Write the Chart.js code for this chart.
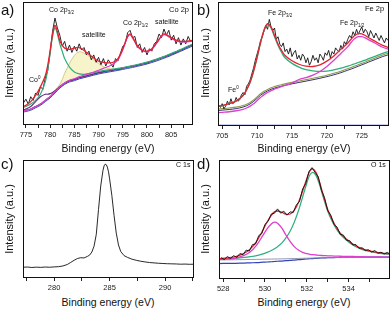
<!DOCTYPE html>
<html>
<head>
<meta charset="utf-8">
<script src="https://cdn.jsdelivr.net/npm/chart.js@4/dist/chart.umd.min.js"></script>
<style>
  body { margin: 0; width: 392px; height: 310px; overflow: hidden; background: #fff; position: relative;
         font-family: "Liberation Sans", Arial, sans-serif; color: #111; }
  canvas { position: absolute; }
  .t { position: absolute; white-space: nowrap; line-height: 1; }
  .letter { font-size: 15px; }
  .ytitle { font-size: 11px; transform: translate(-50%, -50%) rotate(-90deg); }
  .xtitle { font-size: 10.5px; transform: translate(-50%, -50%); }
  .note { font-size: 7px; }
  .note sub, .note sup { font-size: 4.5px; line-height: 0; }
</style>
</head>
<body>
<canvas id="ca"></canvas>
<canvas id="cb"></canvas>
<canvas id="cc"></canvas>
<canvas id="cd"></canvas>

<div class="t letter" style="left:1px;top:2px">a)</div>
<div class="t letter" style="left:197px;top:2px">b)</div>
<div class="t letter" style="left:1px;top:156px">c)</div>
<div class="t letter" style="left:197px;top:156px">d)</div>

<div class="t ytitle" style="left:9px;top:63px">Intensity (a.u.)</div>
<div class="t ytitle" style="left:205px;top:63px">Intensity (a.u.)</div>
<div class="t ytitle" style="left:9px;top:219px">Intensity (a.u.)</div>
<div class="t ytitle" style="left:205px;top:219px">Intensity (a.u.)</div>

<div class="t xtitle" style="left:108px;top:148px">Binding energy (eV)</div>
<div class="t xtitle" style="left:304px;top:148px">Binding energy (eV)</div>
<div class="t xtitle" style="left:108px;top:302px">Binding energy (eV)</div>
<div class="t xtitle" style="left:304px;top:302px">Binding energy (eV)</div>

<div class="t note" style="left:49px;top:6px">Co 2p<sub>3/2</sub></div>
<div class="t note" style="left:82px;top:31px">satellite</div>
<div class="t note" style="left:123px;top:19px">Co 2p<sub>1/2</sub></div>
<div class="t note" style="left:155px;top:18px">satellite</div>
<div class="t note" style="left:169px;top:6px;font-size:7.5px">Co 2p</div>
<div class="t note" style="left:29px;top:76px">Co<sup>0</sup></div>

<div class="t note" style="left:268px;top:9px">Fe 2p<sub>3/2</sub></div>
<div class="t note" style="left:340px;top:19px">Fe 2p<sub>1/2</sub></div>
<div class="t note" style="left:365px;top:5px;font-size:7.5px">Fe 2p</div>
<div class="t note" style="left:228px;top:86px">Fe<sup>0</sup></div>

<div class="t note" style="left:176px;top:161px">C 1s</div>
<div class="t note" style="left:371px;top:161px">O 1s</div>

<script>
// ---- a) Co 2p ----
const aRawStart = 774.5, aRawStep = 0.5;
const aRaw = [18,21,17,23,20,26,24,31,29,38,44,59,76,87,79,73,64,68,60,65,59,64,60,66,61,63,57,60,53,57,
              51,55,49,54,48,53,50,47,54,52,58,64,66,75,77,71,72,63,66,59,63,57,62,60,66,68,74,71,78,73,
              77,69,73,66,71,65,70,66,72,68];
const aFitX = [774,775,776,777,778,779,779.5,780,780.5,781,781.5,782,782.5,783,784,785,786,787,788,789,
               790,791,792,793,794,795,795.5,796,796.5,797,797.5,798,799,800,801,802,803,803.5,804,805,
               806,807,808,809,810];
const aRed = [14,16,19,24,31,40,48.5,60.5,73.5,81,76,68.5,65,62.5,61.5,62.5,63,60.5,57.5,54.5,
              52,51,50.5,51,54,62,67.3,72,74,71.5,68,64.5,61,60,62,67,72.5,74,73.5,71,
              69,68,68,68.5,69];
const aMag = [11,12,13,15,17,20,21.5,23,25,27,29,31,32.6,34.2,36.4,37.6,39.3,40.5,41.8,43,
              44.5,46,47.5,49.5,53,61,66.5,71.5,73.5,71,67.5,64,60.5,59.5,61.5,66.5,72,73.5,73,70.5,
              68.5,67.5,67.5,68,68.5];
const aGreen = [13.5,15,17,20,25,35,45,58,72,79,74,66,60,54,47,43,41.5,41.2,41.8,42.6,
                43.5,44.2,44.8,45.4,46,46.7,47.1,47.5,47.9,48.3,48.7,49.2,50.1,51.1,52.3,53.6,55,55.8,56.5,58.1,
                59.8,61.5,63.3,65,66.5];
const aSat = [11,12,13,15,17,20,21.5,23.2,25.5,28,30.5,33,37,42,50,56.5,59.5,58.5,56,53,
              50,47.5,46,45.5,45.8,46.4,46.8,47.2,47.6,48,48.4,48.9,49.7,50.7,51.9,53.2,54.6,55.4,56.1,57.7,
              59.4,61.1,62.9,64.6,66.1];
const aCo0 = [11.5,13,15,19,23,25,25,25.5,26.5,27.8,29.6,31.4,32.8,34.2,36.1,37.1,38.6,39.6,40.6,41.6,
              42.6,43.4,44.1,44.8,45.5,46.3,46.7,47.1,47.5,47.9,48.3,48.8,49.7,50.7,51.9,53.2,54.6,55.4,56.1,57.7,
              59.4,61.1,62.9,64.6,66.1];
const aBg = [11,12,13,15,17,20,21.5,23,25,27,29,31,32.5,34,36,37,38.5,39.5,40.5,41.5,
             42.5,43.3,44,44.7,45.4,46.2,46.6,47,47.4,47.8,48.2,48.7,49.6,50.6,51.8,53.1,54.5,55.3,56,57.6,
             59.3,61,62.8,64.5,66];
const aBlue = [10,11,12,14,16,19,20.5,22,24,26,28,30,31.5,33,35,36,37.5,38.5,39.5,40.5,
               41.5,42.3,43,43.7,44.4,45.2,45.6,46,46.4,46.8,47.2,47.7,48.6,49.6,50.8,52.1,53.5,54.3,55,56.6,
               58.3,60,61.8,63.5,65];

// ---- b) Fe 2p ----
const bRawStart = 704.5, bRawStep = 0.25;
const bRaw = [17,15,18,14,16,20,17,22,18,19, 23,20,21,25,27,25,32,34,37,42,
              47,53,58,63,69,72,77,81,78,86, 80,77,79,70,72,66,64,67,60,62,
              58,63,56,59,61,54,57,53,58,56, 51,55,49,52,57,53,55,51,58,56,
              53,59,57,61,55,60,58,63,61,60, 65,62,68,66,70,73,71,76,73,78,
              74,77,80,75,78,76,72,77,74,71, 75,72,69,73,70,67,71,69];
const bFitX = [704,705,706,707,708,708.5,709,709.5,710,710.5,711,711.5,712,712.5,713,713.5,714,715,716,717,
               718,719,720,721,722,723,723.5,724,724.5,725,725.5,726,727,728,729];
const bRed = [15.5,16.5,18,20.2,24.8,29.3,35.4,44.5,55.5,67.5,77.5,82.5,79.8,73,66.2,61,56.8,52.6,49.8,48.2,
              48,49.3,52.3,56.5,61.8,67,70.2,73,74.5,74.3,73,71.2,68,65,63];
const bMag = [10.5,11,11.5,12.3,13.5,14.5,16,18,20.5,23,25.3,27,28.5,29.8,30.8,31.8,32.8,34.6,37.5,39,
              41,44,48,53,58.5,64,67.5,70.5,72,72,71,69.5,66.5,63.5,61.5];
const bGreen = [15.5,16.5,18,20,24.5,29,35,44,55,67,77,82,79,72,65,59.5,55,50.5,47.5,45.5,
                44.5,44,44.3,45.2,46.6,48.3,49.2,50.2,51.2,52.2,53.2,54.3,56.4,58.5,60.3];
const bBg = [13.5,14,14.5,15.2,16.5,17.5,19,21,23.5,26,28,29.5,30.8,31.8,32.6,33.3,34,35.2,36.3,37.4,
             38.5,39.7,41,42.5,44.2,46.2,47.2,48.3,49.4,50.5,51.6,52.8,55,57.2,59];
const bNavy = [12.3,12.8,13.3,14,15.3,16.3,17.8,19.8,22.3,24.8,26.8,28.3,29.6,30.6,31.4,32.1,32.8,34,35.1,36.2,
               37.3,38.5,39.8,41.3,43,45,46,47.1,48.2,49.3,50.4,51.6,53.8,56,57.8];
const bBaseX = [704, 729];
const bBase = [0.6, 0.6];

// ---- c) C 1s ----
const cX = [277.2,277.6,278,278.4,278.8,279.2,279.6,280,280.4,280.8,281.2,281.5,281.8,282.1,282.4,282.7,283,283.2,283.4,283.6,
            283.8,284,284.2,284.4,284.5,284.6,284.7,284.8,284.9,285,285.2,285.4,285.6,285.8,286,286.3,286.6,287,287.4,287.8,
            288.2,288.6,289,289.4,289.8,290.2,290.6,291,291.4,291.8,292.2,292.6];
const cY = [9.1,9.3,8.9,9.2,9.0,9.3,9.1,9.4,9.6,10.2,11.5,13.2,15.0,16.5,17.2,17.0,18.3,19.4,22,27,
            37,58,78,91,95,96.5,96,94,90,84,70,53,38,28,22.5,19,17.5,16,15,14.2,
            13.6,13.1,12.8,12.5,12.3,12.1,12.0,11.9,11.7,11.8,11.6,11.7];

// ---- d) O 1s ----
const dRawStart = 527.9, dRawStep = 0.15;
const dRaw = [18.0,16.3,18.9,17.2,19.6,18.2,21.4,20.4,24.3,23.5,28.9,29.4,36.5,38.2,46.0,48.4,54.6,55.2,58.9,55.3,
              57.0,53.6,56.4,55.9,62.3,65.1,75.7,80.1,90.2,93.6,89.5,85.8,74.6,68.3,57.4,53.7,45.8,43.6,37.5,36.9,
              32.6,32.3,28.7,28.9,25.8,26.2,23.9,24.6,22.6,23.9,21.7,22.5,21.0,22.4,20.5,21.3];
const dFitX = [527.8,528.2,528.6,529,529.3,529.6,529.9,530.1,530.3,530.45,530.6,530.8,531,531.2,531.4,531.6,531.8,532,532.15,532.3,
               532.45,532.6,532.8,533,533.2,533.4,533.6,533.9,534.2,534.6,535,535.5,536,536.4];
const dRed = [17,17.7,18.8,21.6,25.3,31.7,41.1,47.9,53.45,56.4,57.15,56.1,54.5,54.6,57.7,64.3,73.9,84.3,90.75,92.4,
              89.15,81.9,69.7,58.5,50.35,43.7,38.6,33.45,29.4,25.7,23.6,22,21,20.5];
const dMag = [16.5,16.9,17.6,19.8,22.9,28.5,36.6,42.2,46.25,47.8,46.85,42.9,37,31.6,27.2,24.3,22.4,21.3,20.75,20.4,
              20.15,19.9,19.7,19.5,19.35,19.2,19.1,18.95,18.9,18.7,18.6,18.5,18.4,18.4];
const dGreen = [16.5,16.9,17.4,18.1,18.8,19.7,21.1,22.4,23.95,25.4,27.15,30.1,34.5,40.1,47.7,57.3,68.9,80.5,87.55,89.6,
                86.65,79.7,67.8,56.9,48.95,42.5,37.5,32.55,28.6,25.1,23.1,21.6,20.7,20.2];
const dGray = [16,16.1,16.2,16.3,16.4,16.5,16.6,16.7,16.75,16.8,16.85,16.9,17,17.1,17.2,17.3,17.4,17.5,17.55,17.6,
               17.65,17.7,17.8,17.9,17.95,18,18,18.05,18.1,18.1,18.1,18.1,18.1,18.1];
const dBlue = [13,13.1,13.2,13.4,13.6,13.8,14.1,14.3,14.5,14.7,14.9,15.1,15.4,15.6,15.9,16.2,16.5,16.8,17,17.2,
               17.4,17.55,17.7,17.85,17.95,18.05,18.1,18.2,18.25,18.3,18.35,18.4,18.4,18.45];

// colours
const RED = '#e8212f', MAG = '#dd3fcf', GREEN = '#2fae7e', RAW = '#111111';
const NAVY = '#1b1b5e', BLUE = '#3344bb', PURPLE = '#6a2a7a', OLIVE = '#8c9a4a', GRAY = '#8a8aa8';

const pts = (xs, ys) => ys.map((y, i) => ({ x: xs[i], y }));
const grid = (x0, dx, ys) => ys.map((y, i) => ({ x: +(x0 + i * dx).toFixed(3), y }));
const line = (data, color, w, extra) =>
  Object.assign({ data, borderColor: color, borderWidth: w, pointRadius: 0, tension: 0.35, fill: false }, extra || {});
const raw = (data) => line(data, RAW, 0.9, { tension: 0 });

// box around plot area
const frame = {
  id: 'frame',
  afterDatasetsDraw(chart) {
    const { ctx, chartArea: a } = chart;
    ctx.save();
    ctx.strokeStyle = '#111';
    ctx.lineWidth = 1;
    ctx.strokeRect(a.left + 0.5, a.top + 0.5, a.right - a.left - 1, a.bottom - a.top - 1);
    ctx.restore();
  }
};

function panel(id, box, xmin, xmax, step, major, datasets) {
  const c = document.getElementById(id);
  c.width = box.r - box.l + 12;
  c.height = box.b - box.t + 18;
  c.style.left = (box.l - 10) + 'px';
  c.style.top = (box.t - 2) + 'px';
  return new Chart(c, {
    type: 'line',
    data: { datasets },
    options: {
      responsive: false,
      animation: false,
      layout: { padding: { left: 0, right: 2, top: 2, bottom: 0 } },
      plugins: { legend: { display: false }, tooltip: { enabled: false } },
      scales: {
        x: {
          type: 'linear', min: xmin, max: xmax,
          ticks: {
            stepSize: step, includeBounds: false, autoSkip: false, maxRotation: 0,
            color: '#222', font: { size: 7.5, family: '"Liberation Sans", Arial, sans-serif' }, padding: 2,
            callback: v => (Math.abs(v % major) < 1e-6 ? v : '')
          },
          grid: { display: true, drawOnChartArea: false, drawTicks: true, tickLength: 3, color: '#222' },
          border: { display: false },
          afterFit: s => { s.height = 16; }
        },
        y: {
          min: 0, max: 100,
          ticks: { display: false },
          grid: { display: false },
          border: { display: false },
          afterFit: s => { s.width = 10; }
        }
      }
    },
    plugins: [frame]
  });
}

panel('ca', { l: 23, r: 193, t: 2, b: 125 }, 774.4, 809.5, 2.5, 5, [
  line(pts(aFitX, aRed), RED, 1.3),
  line(pts(aFitX, aMag), MAG, 1.2),
  line(pts(aFitX, aGreen), GREEN, 1.2),
  raw(grid(aRawStart, aRawStep, aRaw)),
  line(pts(aFitX, aCo0), PURPLE, 1.1),
  line(pts(aFitX, aSat), '#c8c070', 0.8, { fill: { target: 7 }, backgroundColor: 'rgba(246,242,196,0.9)' }),
  line(pts(aFitX, aBlue), BLUE, 1),
  line(pts(aFitX, aBg), NAVY, 1.3)
]);

panel('cb', { l: 218, r: 389, t: 2, b: 126 }, 704.4, 728.9, 2.5, 5, [
  line(pts(bFitX, bRed), RED, 1.3),
  line(pts(bFitX, bMag), MAG, 1.3),
  line(pts(bFitX, bGreen), GREEN, 1.3),
  raw(grid(bRawStart, bRawStep, bRaw)),
  line(pts(bFitX, bBg), OLIVE, 1.1),
  line(pts(bFitX, bNavy), NAVY, 0.9),
  line(pts(bBaseX, bBase), BLUE, 1.2, { tension: 0 })
]);

panel('cc', { l: 23, r: 194, t: 160, b: 278 }, 277.2, 292.6, 2.5, 5, [
  raw(pts(cX, cY))
]);

panel('cd', { l: 219, r: 390, t: 160, b: 279 }, 527.8, 535.98, 1, 2, [
  raw(grid(dRawStart, dRawStep, dRaw)),
  line(pts(dFitX, dRed), RED, 1.3),
  line(pts(dFitX, dMag), MAG, 1.3),
  line(pts(dFitX, dGreen), GREEN, 1.2),
  line(pts(dFitX, dGray), GRAY, 0.9),
  line(pts(dFitX, dBlue), BLUE, 1.2)
]);
</script>
</body>
</html>
